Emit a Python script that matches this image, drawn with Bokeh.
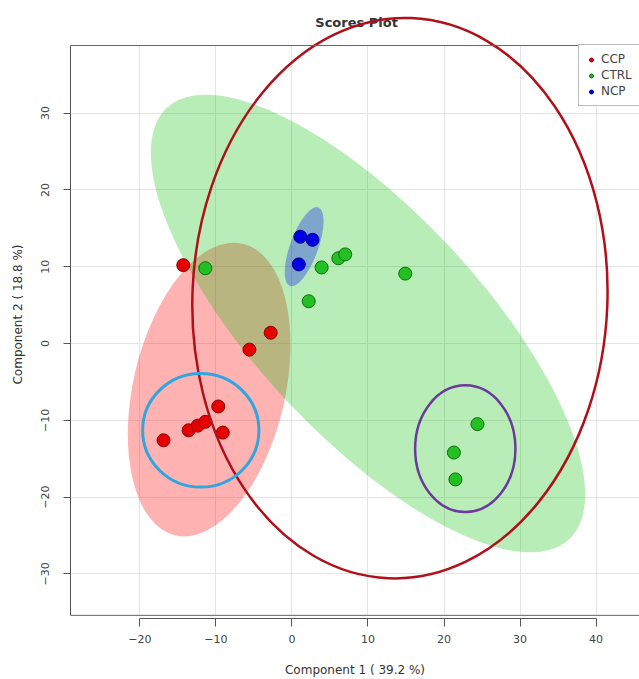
from bokeh.plotting import figure
from bokeh.models import Range1d, Span, Legend, LegendItem, FixedTicker
from bokeh.core.properties import value
from bokeh.embed import file_html
from bokeh.resources import INLINE
import math

# ---- data ----
ccp_x = [-14.3, -2.8, -5.6, -9.7, -13.6, -12.4, -11.4, -9.1, -16.9]
ccp_y = [10.2, 1.4, -0.8, -8.2, -11.3, -10.7, -10.2, -11.6, -12.6]
ctrl_x = [-11.4, 3.9, 6.1, 7.0, 14.9, 2.2, 24.4, 21.3, 21.5]
ctrl_y = [9.8, 9.9, 11.1, 11.6, 9.1, 5.5, -10.5, -14.2, -17.7]
ncp_x = [1.1, 2.7, 0.9]
ncp_y = [13.9, 13.5, 10.3]

# group confidence ellipses: CCP, CTRL, NCP
ell_cx = [-10.9, 10.0, 1.6]
ell_cy = [-6.0, 2.6, 12.6]
ell_w = [20.0, 77.6, 3.7]
ell_h = [39.0, 29.2, 10.9]
ell_angle = [-13.0, -47.0, -20.0]

# highlight outlines: big dark red, light blue circle, purple
hl_cx = [14.2, -12.0, 22.8]
hl_cy = [5.9, -11.3, -13.7]
hl_w = [54.6, 15.3, 13.2]
hl_h = [73.0, 14.8, 16.5]
hl_angle = [-2.3, 0.0, 0.0]

x_ticks = [-20, -10, 0, 10, 20, 30, 40]
y_ticks = [-30, -20, -10, 0, 10, 20, 30]

title_text = "Scores Plot"
x_label = "Component 1 ( 39.2 %)"
y_label = "Component 2 ( 18.8 %)"

# ---- layout ----
X_START, X_END = -29.14, 45.72
Y_START, Y_END = -35.81, 43.36
BOX_TOP, BOX_BOTTOM = 38.8, -35.4
TITLE_X, TITLE_Y = 8.5, 41.8

FONT = "DejaVu Sans"

p = figure(width=639, height=679, output_backend="svg", toolbar_location=None,
           x_range=Range1d(X_START, X_END), y_range=Range1d(Y_START, Y_END),
           min_border_left=70, min_border_right=0, min_border_top=10, min_border_bottom=61)
p.outline_line_color = None
p.background_fill_color = "white"
p.border_fill_color = "white"

# axes
for ax in (p.xaxis[0], p.yaxis[0]):
    ax.axis_line_color = "#555555"
    ax.major_tick_line_color = "#555555"
    ax.minor_tick_line_color = None
    ax.major_tick_in = 0
    ax.major_label_text_font = FONT
    ax.major_label_text_font_size = "11px"
    ax.major_label_text_color = "#444444"
    ax.axis_label_text_font = FONT
    ax.axis_label_text_font_size = "12px"
    ax.axis_label_text_font_style = "normal"
    ax.axis_label_text_color = "#333333"

p.xaxis.ticker = FixedTicker(ticks=x_ticks)
p.yaxis.ticker = FixedTicker(ticks=y_ticks)
p.xaxis.bounds = (x_ticks[0], x_ticks[-1])
p.yaxis.bounds = (BOX_BOTTOM, BOX_TOP)
p.xaxis.major_tick_out = 8
p.yaxis.major_tick_out = 7
p.xaxis.major_label_standoff = 8
p.yaxis.major_label_standoff = 14
p.xaxis.axis_label_standoff = 17
p.yaxis.axis_label_standoff = 14
p.yaxis.major_label_orientation = "vertical"
p.xaxis.axis_label = x_label
p.yaxis.axis_label = y_label

p.xgrid.grid_line_color = "#e4e4e4"
p.ygrid.grid_line_color = "#e4e4e4"

# white strips outside the plot box (hide grid there)
p.quad(left=[X_START - 5], right=[X_END + 5], bottom=[BOX_TOP], top=[Y_END + 5],
       fill_color="white", line_color=None)
p.quad(left=[X_START - 5], right=[X_END + 5], bottom=[Y_START - 5], top=[BOX_BOTTOM],
       fill_color="white", line_color=None)

# title
p.text(x=[TITLE_X], y=[TITLE_Y], text=[title_text], text_font=value(FONT),
       text_font_style="bold", text_font_size="13px", text_color="#333333",
       text_align="center", text_baseline="middle")

# group ellipses (red, then green, then blue)
ell_colors = ["#ff0000", "#00c000", "#0000ff"]
ell_alpha = [0.3, 0.28, 0.3]
for i in range(3):
    p.ellipse(x=[ell_cx[i]], y=[ell_cy[i]], width=[ell_w[i]], height=[ell_h[i]],
              angle=[math.radians(ell_angle[i])], fill_color=ell_colors[i],
              fill_alpha=ell_alpha[i], line_color=None)

# points
r_ccp = p.scatter(ccp_x, ccp_y, size=13, fill_color="#e60000", line_color="#8b0000", line_width=1)
r_ctrl = p.scatter(ctrl_x, ctrl_y, size=13, fill_color="#22c022", line_color="#0a6e0a", line_width=1)
r_ncp = p.scatter(ncp_x, ncp_y, size=13, fill_color="#0000e6", line_color="#00008b", line_width=1)

# highlight outlines
hl_colors = ["#b0101a", "#2ea6df", "#6b3a9a"]
hl_widths = [2.5, 3, 2.5]
for i in range(3):
    p.ellipse(x=[hl_cx[i]], y=[hl_cy[i]], width=[hl_w[i]], height=[hl_h[i]],
              angle=[math.radians(hl_angle[i])], fill_color=None,
              line_color=hl_colors[i], line_width=hl_widths[i])

# plot box lines
p.add_layout(Span(location=BOX_TOP, dimension="width", line_color="#666666", line_width=1))
p.add_layout(Span(location=BOX_BOTTOM, dimension="width", line_color="#666666", line_width=1))

legend = Legend(items=[LegendItem(label="CCP", renderers=[r_ccp]),
                       LegendItem(label="CTRL", renderers=[r_ctrl]),
                       LegendItem(label="NCP", renderers=[r_ncp])],
                location=(508, 512), margin=0, padding=7, spacing=2,
                glyph_width=10, glyph_height=13, label_height=13, label_standoff=5,
                label_text_font=FONT, label_text_font_size="12px",
                label_text_color="#444444", border_line_color="#777777",
                background_fill_color="white", background_fill_alpha=1)
p.add_layout(legend)

open("out.html", "w").write(file_html(p, INLINE))
